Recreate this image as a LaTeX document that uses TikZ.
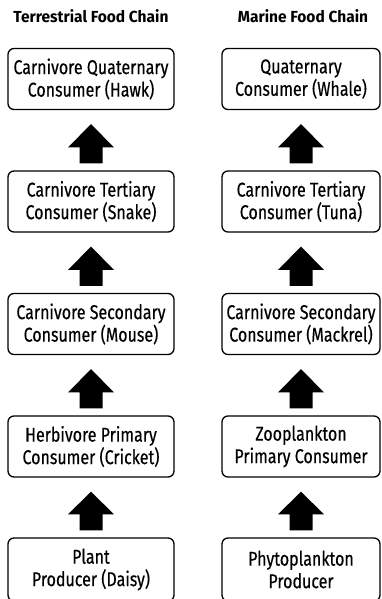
\documentclass[tikz,border=0pt]{standalone}
\usepackage{fontspec}
\setmainfont{Fira Sans}
\newfontfamily\fcboxfont{Fira Sans}[FakeStretch=0.80,FakeBold=0.4]
\newfontfamily\fctitlefont{Fira Sans}[FakeStretch=0.97]
\usetikzlibrary{calc}
\tikzset{
  fcbox/.style={draw=black, line width=1.3pt, rounded corners=6pt, minimum height=61pt, inner sep=0pt, align=center, font=\fcboxfont\fontsize{20}{22.5}\selectfont},
  lbox/.style={fcbox, minimum width=166pt},
  rbox/.style={fcbox, minimum width=158pt},
  fctitle/.style={font=\fctitlefont\fontsize{16}{18}\selectfont\bfseries, inner sep=0pt, anchor=base}
}
\newcommand{\fcarrow}[2]{\fill ($(#1.north)+(-11.5,-7)$) -- ($(#1.north)+(11.5,-7)$) -- ($(#1.north)+(11.5,-23)$) -- ($(#1.north)+(23,-23)$) -- ($(#2.south)+(0,14)$) -- ($(#1.north)+(-23,-23)$) -- ($(#1.north)+(-11.5,-23)$) -- cycle;}
\begin{document}
\begin{tikzpicture}[x=1pt,y=-1pt]
\useasboundingbox (0,0) rectangle (381,599);
\node[fctitle] (lt) at (91,23) {Terrestrial Food Chain};
\node[fctitle] (rt) at (303,23) {Marine Food Chain};
\node[lbox] (l1) at (91,79) {Carnivore Quaternary\\Consumer (Hawk)};
\node[lbox] (l2) at (91,201.5) {Carnivore Tertiary\\Consumer (Snake)};
\node[lbox] (l3) at (91,324) {Carnivore Secondary\\Consumer (Mouse)};
\node[lbox] (l4) at (91,446.5) {Herbivore Primary\\Consumer (Cricket)};
\node[lbox, minimum height=63pt] (l5) at (91,569.5) {Plant\\Producer (Daisy)};
\node[rbox] (r1) at (301,79) {Quaternary\\Consumer (Whale)};
\node[rbox] (r2) at (301,201.5) {Carnivore Tertiary\\Consumer (Tuna)};
\node[rbox] (r3) at (301,324) {Carnivore Secondary\\Consumer (Mackrel)};
\node[rbox] (r4) at (301,446.5) {Zooplankton\\Primary Consumer};
\node[rbox, minimum height=63pt] (r5) at (301,569.5) {Phytoplankton\\Producer};
\fcarrow{l2}{l1}
\fcarrow{l3}{l2}
\fcarrow{l4}{l3}
\fcarrow{l5}{l4}
\fcarrow{r2}{r1}
\fcarrow{r3}{r2}
\fcarrow{r4}{r3}
\fcarrow{r5}{r4}
\end{tikzpicture}
\end{document}
